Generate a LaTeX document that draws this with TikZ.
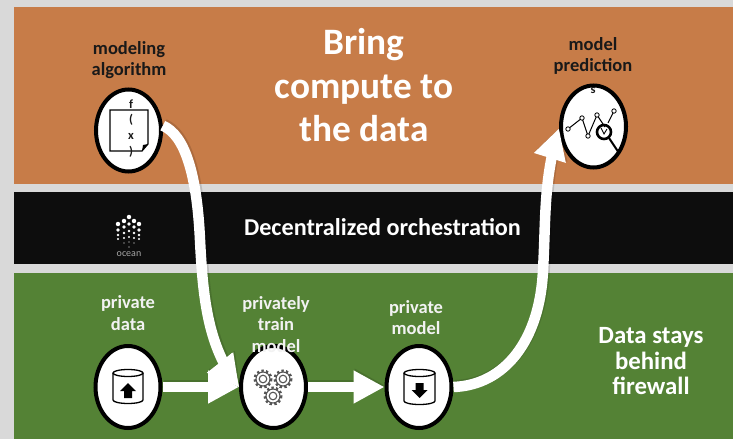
\documentclass[tikz,border=0pt]{standalone}
\usepackage{fontspec}
\setmainfont{Carlito}
\usetikzlibrary{shapes.geometric,arrows.meta,bending}
\definecolor{pagegray}{HTML}{D9D9D9}
\definecolor{bandorange}{HTML}{C77C48}
\definecolor{bandblack}{HTML}{0D0D0D}
\definecolor{bandgreen}{HTML}{548235}
\definecolor{gearcol}{HTML}{555555}
\tikzset{
  circ/.style={ellipse,draw=black,fill=white,line width=4pt,minimum width=65pt,minimum height=82pt,inner sep=0pt},
  flowshadow/.style={draw=black,draw opacity=.13,line width=11.5pt,-{Triangle[length=31pt,width=32pt,flex=0]},transform canvas={shift={(1.2pt,1.2pt)}}},
  flow/.style={draw=white,line width=10.5pt,-{Triangle[length=31pt,width=31pt,flex=0]}},
  lab/.style={align=center,font=\bfseries\fontsize{18.5}{21.5}\selectfont,inner sep=0pt},
  labk/.style={lab,text=black!90},
  labw/.style={lab,text=white!95!black},
  big/.style={align=center,font=\bfseries\fontsize{37.3}{43.5}\selectfont,text=white,inner sep=0pt},
  mid/.style={align=center,font=\bfseries\fontsize{24.2}{25.5}\selectfont,text=white,inner sep=0pt},
  glyph/.style={font=\bfseries\fontsize{12.5}{14}\selectfont,inner sep=0pt,text=black!90},
  can/.style={line width=1.3pt,draw=black},
  gear/.pic={
    \draw[gearcol,line width=2.6pt,dash pattern=on 2.3pt off 2.3pt] (0,0) circle[radius=8.2];
    \draw[gearcol,line width=1.1pt] (0,0) circle[radius=7];
    \draw[gearcol,line width=1.1pt] (0,0) circle[radius=3.8];
  }
}
\begin{document}
\begin{tikzpicture}[x=1pt,y=-1pt]
\useasboundingbox (0,0) rectangle (733,439);
\fill[pagegray] (0,0) rectangle (733,439);
\fill[bandorange] (14,7) rectangle (733,184);
\fill[bandblack] (14,192) rectangle (733,264);
\fill[bandgreen] (14,273) rectangle (733,439);

% ocean logo
\foreach \x/\ys in {118/{224,230,235,239},124/{221,227,233,238,243},129/{217,224,231,237,242,247},134/{221,227,233,238,243},139/{224,230,235,239}}{
  \foreach \y [count=\i] in \ys { \fill[white] (\x,\y) circle[radius={max(0.6,2.6-0.38*\i)}]; }
}
\node[font=\fontsize{10}{12}\selectfont,text=gray!70!white,inner sep=0pt] (oceanlabel) at (129,254.5) {ocean};

% circles
\node[circ] (algo) at (128.5,130.5) {};
\node[circ] (pred) at (593.5,126.5) {};
\node[circ] (data) at (128,387) {};
\node[circ] (train) at (273.5,387) {};
\node[circ] (pmodel) at (419,387) {};

% connector shadows
\draw[flowshadow] (data.east) -- (train.west);
\draw[flowshadow] (train.east) -- (pmodel.west);
\draw[flowshadow] (algo.8) .. controls (185,135) and (197,175) .. (200,240) .. controls (203,300) and (208,347) .. (train.west);
\draw[flowshadow] (pmodel.east) .. controls (505,385) and (540,340) .. (543,270) .. controls (546,220) and (543,180) .. (pred.183);
% connectors
\draw[flow] (data.east) -- (train.west);
\draw[flow] (train.east) -- (pmodel.west);
\draw[flow] (algo.8) .. controls (185,135) and (197,175) .. (200,240) .. controls (203,300) and (208,347) .. (train.west);
\fill[white] (232,353) -- (train.west) -- (208,373) -- cycle;
\draw[flow] (pmodel.east) .. controls (505,385) and (540,340) .. (543,270) .. controls (546,220) and (543,180) .. (pred.183);

% document icon
\draw[line width=1.2pt] (142,151) -- (110,151) -- (110,110) -- (148,110) -- (148,144) -- cycle;
\fill[black] (142,151) -- (148,144) -- (143,145) -- cycle;
\node[glyph] (fa) at (131,104) {f};
\node[glyph] (fb) at (131,120) {(};
\node[glyph] (fc) at (131,136) {x};
\node[glyph] (fd) at (131,152) {)};

% chart icon
\node[glyph] (chartglyph) at (593,90) {s};
\draw[line width=1pt] (568,129) -- (582,118) -- (588,136) -- (597,115) -- (605,127);
\draw[line width=1pt] (608,123) -- (614,111);
\foreach \p in {(568,129),(582,118),(588,136),(597,115),(614,111)} \draw[line width=0.8pt,fill=white] \p circle[radius=2.2];
\draw[line width=2.6pt] (604,132) circle[radius=7];
\draw[line width=2pt] (609,138) -- (619,153);
\draw[line width=0.9pt] (601,128) -- (604,134) -- (607,129);

% cylinders
\draw[can] (113,373) -- (113,400) arc[start angle=180,end angle=0,x radius=15,y radius=3.5] -- (143,373);
\draw[can] (128,373) ellipse[x radius=15,y radius=3.5];
\fill[black] (128,383) -- (136,391) -- (132,391) -- (132,398) -- (124,398) -- (124,391) -- (120,391) -- cycle;
\draw[can] (404,373) -- (404,401) arc[start angle=180,end angle=0,x radius=15.5,y radius=3.5] -- (435,373);
\draw[can] (419.5,373) ellipse[x radius=15.5,y radius=3.5];
\fill[black] (419.5,398) -- (427.5,390) -- (423.5,390) -- (423.5,383) -- (415.5,383) -- (415.5,390) -- (411.5,390) -- cycle;

% gears
\pic at (263,379) {gear};
\pic at (283,379) {gear};
\pic at (273,396) {gear};

% labels
\node[big] (title) at (364,85.5) {Bring\\compute to\\the data};
\node[mid] (orch) at (382.5,227) {Decentralized orchestration};
\node[mid,font=\bfseries\fontsize{24.8}{25.5}\selectfont] (fw) at (651,361.5) {Data stays\\behind\\firewall};
\node[labk] (l1) at (129,60) {modeling\\algorithm};
\node[labk] (l2) at (593,56) {model\\prediction};
\node[labw] (l3) at (128,313) {private\\data};
\node[labw] (l4) at (276,324.5) {privately\\train\\model};
\node[labw] (l5) at (416,317.5) {private\\model};
\end{tikzpicture}
\end{document}
